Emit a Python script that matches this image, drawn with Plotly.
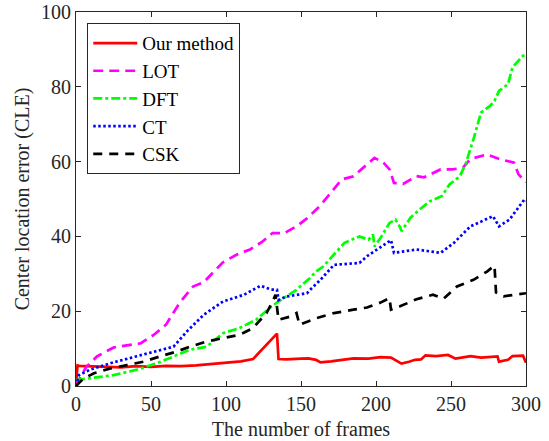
import plotly.graph_objects as go

# ---- data ----
our_x = [0, 1, 2, 10, 20, 30, 40, 50, 60, 70, 80, 90, 96, 100, 110, 118, 134, 135, 140, 150, 155,
         160, 163, 170, 180, 185, 195, 203, 210, 215, 217, 222, 226, 230, 233, 240, 248, 253, 258,
         263, 270, 279, 281, 282, 288, 291, 298, 300]
our_y = [0, 5.5, 5.4, 5.3, 5.2, 5.0, 5.3, 5.1, 5.4, 5.3, 5.5, 5.8, 6.1, 6.3, 6.6, 7.2, 14.0, 7.2,
         7.1, 7.3, 7.4, 7.0, 6.3, 6.6, 7.1, 7.4, 7.3, 7.7, 7.6, 6.3, 6.0, 6.5, 7.0, 7.1, 8.2, 8.0,
         8.3, 7.3, 7.6, 8.0, 7.6, 8.0, 7.9, 6.5, 7.0, 8.0, 8.1, 6.2]

lot_x = [0, 3, 7, 14, 25, 36, 43, 52, 60, 69, 78, 85, 92, 98, 107, 116, 124, 131, 139, 147, 154,
         162, 169, 177, 185, 193, 199, 205, 209, 212, 218, 227, 232, 243, 251, 258, 263, 274, 283,
         292, 295, 300]
lot_y = [0, 2.5, 5.2, 7.9, 10.3, 11.0, 11.4, 13.7, 16.4, 22.2, 26.6, 27.7, 30.7, 33.1, 35.1, 36.5,
         38.5, 40.9, 40.9, 42.7, 44.8, 47.9, 51.2, 55.2, 56.1, 58.8, 61.0, 59.7, 57.9, 54.3, 54.0,
         56.1, 55.8, 57.9, 57.9, 58.4, 60.7, 61.9, 60.6, 59.7, 56.6, 54.5]

dft_x = [0, 9, 25, 40, 54, 65, 76, 87, 98, 109, 120, 129, 135, 147, 156, 160, 165, 179, 189, 195,
         198, 199, 203, 209, 213, 216, 217, 223, 229, 236, 244, 249, 256, 260, 265, 270, 276, 279,
         282, 288, 291, 298, 300]
dft_y = [1.6, 2.0, 2.9, 4.3, 6.1, 7.9, 9.7, 10.5, 14.1, 15.5, 17.7, 20.8, 22.6, 25.7, 28.9, 30.6,
         32.0, 38.3, 40.0, 39.1, 40.5, 37.3, 39.6, 43.6, 44.5, 42.5, 41.4, 45.0, 47.2, 49.4, 50.8,
         53.9, 56.1, 59.7, 66.0, 73.1, 74.9, 76.2, 78.9, 80.7, 85.2, 88.3, 88.5]

ct_x = [0, 2, 9, 23, 40, 58, 65, 74, 85, 98, 112, 123, 130, 134, 135, 140, 147, 154, 156, 163, 172,
        189, 194, 207, 210, 212, 227, 243, 252, 263, 278, 282, 289, 294, 299, 300]
ct_y = [0, 2.9, 4.3, 6.1, 7.9, 9.8, 10.5, 14.6, 19.0, 22.6, 24.4, 26.8, 25.8, 25.7, 23.0, 23.9,
        24.4, 24.8, 25.7, 28.4, 32.4, 32.9, 34.7, 38.3, 39.0, 35.6, 36.5, 35.6, 38.3, 42.7, 45.4,
        42.7, 44.5, 47.2, 49.9, 49.5]

csk_x = [0, 5, 12, 23, 34, 45, 56, 67, 76, 87, 98, 109, 118, 127, 131, 133, 135, 143, 147, 149,
         160, 172, 185, 194, 203, 209, 210, 216, 227, 238, 245, 254, 265, 274, 279, 280, 285, 298, 300]
csk_y = [0, 2.0, 3.4, 4.7, 5.6, 6.5, 7.9, 9.2, 10.5, 11.9, 12.8, 13.7, 15.5, 19.5, 22.5, 24.4,
         17.7, 18.6, 19.5, 16.4, 18.1, 19.5, 20.4, 21.0, 22.3, 23.5, 20.4, 21.3, 23.2, 24.4, 23.3,
         26.6, 28.4, 30.6, 32.2, 25.0, 24.0, 24.6, 24.8]

x_ticks = [0, 50, 100, 150, 200, 250, 300]
y_ticks = [0, 20, 40, 60, 80, 100]

FONT = "Liberation Serif"

fig = go.Figure()
series = [
    ("Our method", our_x, our_y, "#FF0000", "solid"),
    ("LOT", lot_x, lot_y, "#FF00FF", "10px,6px"),
    ("DFT", dft_x, dft_y, "#00FF00", "9px,3px,3px,3px"),
    ("CT", ct_x, ct_y, "#0000FF", "2.5px,2.5px"),
    ("CSK", csk_x, csk_y, "#000000", "9px,7px"),
]
for name, xs, ys, col, dash in series:
    fig.add_trace(go.Scatter(x=xs, y=ys, mode="lines", name=name,
                             line=dict(color=col, width=2.7, dash=dash)))

axis_common = dict(showline=True, linecolor="#262626", linewidth=1, mirror="ticks",
                   ticks="inside", ticklen=5, tickcolor="#262626", showgrid=False,
                   zeroline=False, automargin=False,
                   tickfont=dict(family=FONT, size=20, color="#262626"))

fig.update_layout(
    width=549, height=441,
    margin=dict(l=76, r=23, t=12, b=55),
    paper_bgcolor="white", plot_bgcolor="white",
    font=dict(family=FONT, size=20, color="#262626"),
    xaxis=dict(range=[0, 300], tickvals=x_ticks,
               title=dict(text="The number of frames", font=dict(family=FONT, size=20), standoff=7),
               **axis_common),
    yaxis=dict(range=[0, 100], tickvals=y_ticks,
               title=dict(text="Center location error (CLE)", font=dict(family=FONT, size=20), standoff=6),
               **axis_common),
    legend=dict(x=0.025, y=0.97, xanchor="left", yanchor="top",
                bgcolor="white", bordercolor="#262626", borderwidth=1,
                font=dict(family=FONT, size=19, color="black"),
                tracegroupgap=0, itemwidth=44),
    showlegend=True,
)

# remove the page's default body margin so the figure sits at the window's corner
fig.write_html("out.html", config={"displayModeBar": False},
               post_script="document.body.style.margin='0';document.body.style.overflow='hidden';")
